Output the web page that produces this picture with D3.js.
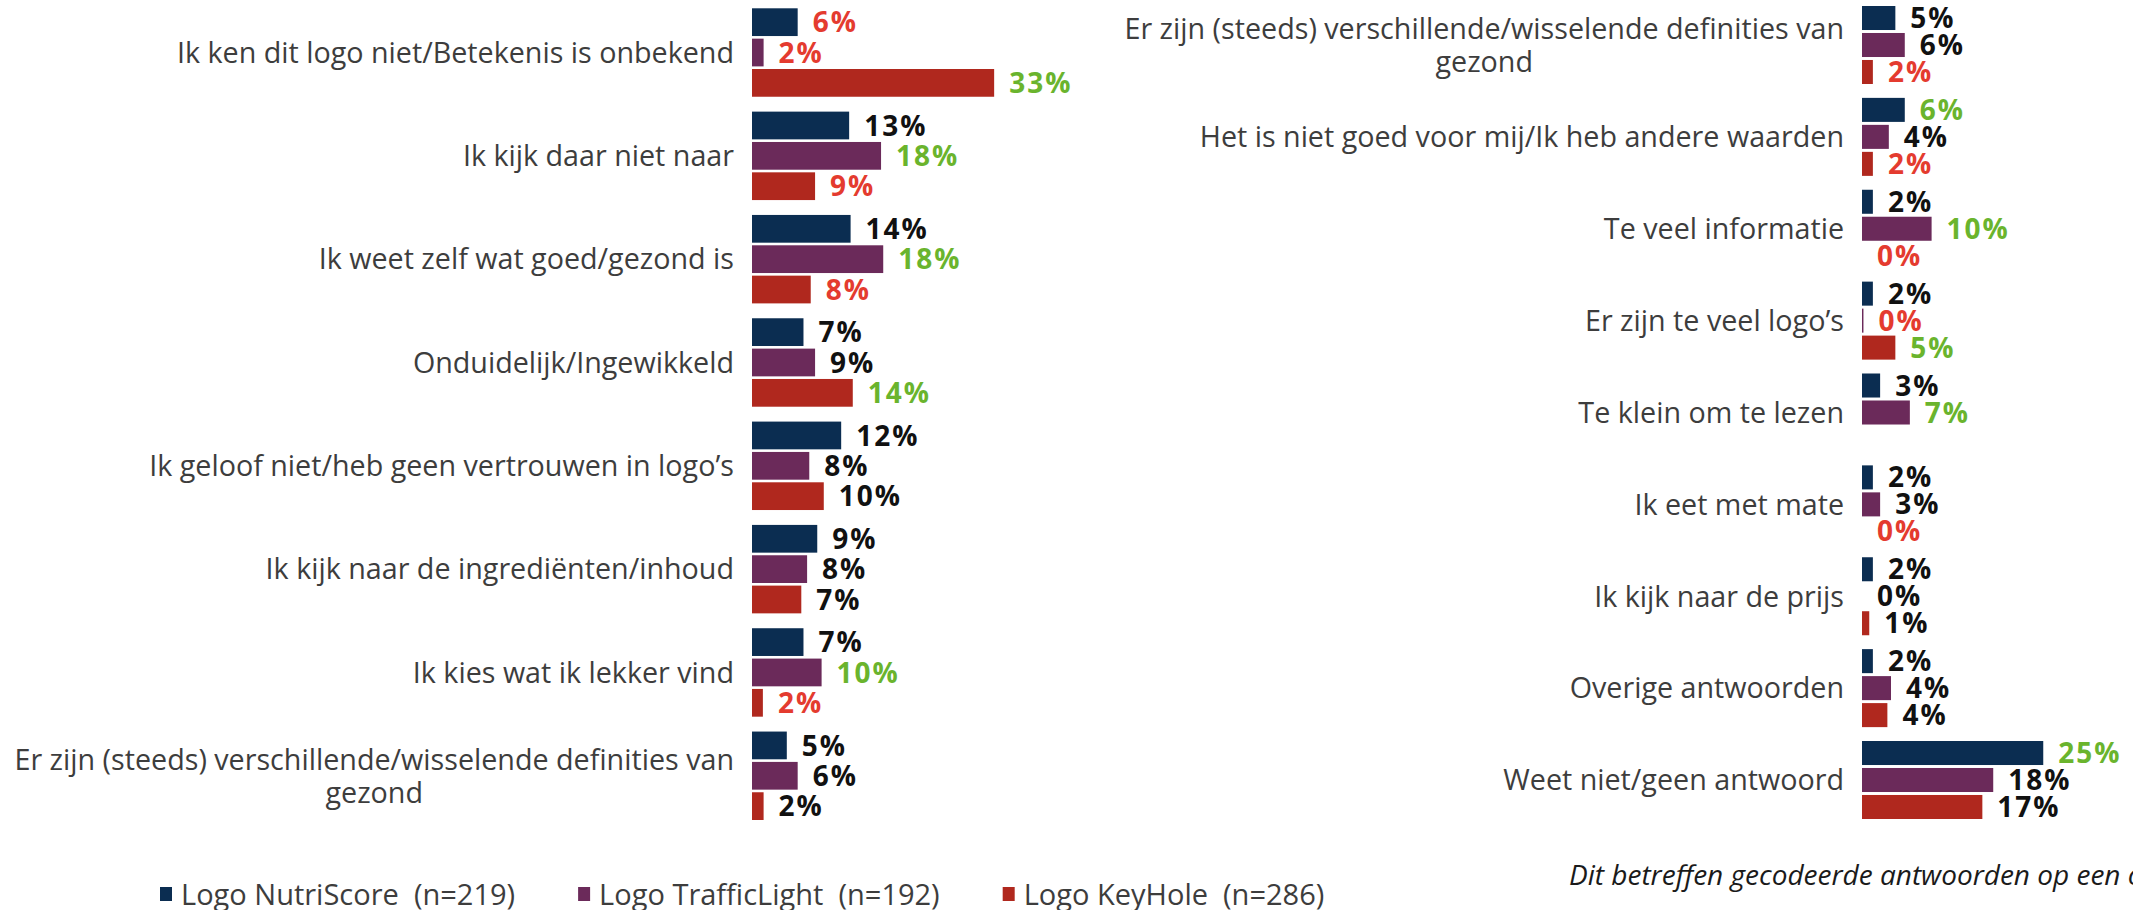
<!DOCTYPE html>
<html>
<head>
<meta charset="utf-8">
<script src="https://cdn.jsdelivr.net/npm/d3@7/dist/d3.min.js"></script>
<style>
  body { margin: 0; background: #fff; }
  svg { display: block; }
  text { font-family: "Open Sans", sans-serif; }
</style>
</head>
<body>
<svg id="chart"></svg>
<script>
// series (legend) + colours
var seriesNames = ["Logo NutriScore  (n=219)", "Logo TrafficLight  (n=192)", "Logo KeyHole  (n=286)"];
var seriesColors = ["#0b2d51", "#6b2a5a", "#b0281e"];

// left panel
var leftCategories = [
  "Ik ken dit logo niet/Betekenis is onbekend",
  "Ik kijk daar niet naar",
  "Ik weet zelf wat goed/gezond is",
  "Onduidelijk/Ingewikkeld",
  "Ik geloof niet/heb geen vertrouwen in logo’s",
  "Ik kijk naar de ingrediënten/inhoud",
  "Ik kies wat ik lekker vind",
  "Er zijn (steeds) verschillende/wisselende definities van gezond"
];
var leftNutri   = [6.3, 13.4, 13.6, 7.1, 12.3, 9.0, 7.1, 4.8];
var leftTraffic = [1.6, 17.8, 18.1, 8.7, 7.9, 7.6, 9.6, 6.3];
var leftKeyhole = [33.4, 8.7, 8.1, 13.9, 9.9, 6.8, 1.5, 1.6];
// significance: "+" higher (green), "-" lower (red), "" none
var leftNutriSig   = ["-", "", "", "", "", "", "", ""];
var leftTrafficSig = ["-", "+", "+", "", "", "", "+", ""];
var leftKeyholeSig = ["+", "-", "-", "+", "", "", "-", ""];

// right panel
var rightCategories = [
  "Er zijn (steeds) verschillende/wisselende definities van gezond",
  "Het is niet goed voor mij/Ik heb andere waarden",
  "Te veel informatie",
  "Er zijn te veel logo’s",
  "Te klein om te lezen",
  "Ik eet met mate",
  "Ik kijk naar de prijs",
  "Overige antwoorden",
  "Weet niet/geen antwoord"
];
var rightNutri   = [4.6, 5.9, 1.5, 1.5, 2.5, 1.5, 1.5, 1.5, 25.0];
var rightTraffic = [5.9, 3.7, 9.6, 0.2, 6.6, 2.5, 0, 4.0, 18.1];
var rightKeyhole = [1.5, 1.5, 0, 4.6, null, 0, 1.0, 3.5, 16.6];
var rightNutriSig   = ["", "+", "", "", "", "", "", "", "+"];
var rightTrafficSig = ["", "", "+", "-", "+", "", "", "", ""];
var rightKeyholeSig = ["-", "-", "-", "+", "", "-", "", "", ""];

var footnote = "Dit betreffen gecodeerde antwoorden op een open vraag";

var width = 2133, height = 910;
var sigColor = {"+": "#6ab42d", "-": "#e43b2f", "": "#111111"};

var svg = d3.select("#chart").attr("width", width).attr("height", height);

var drawPanel = function(cats, vals, sigs, x0, y0, y1, groupPad, barPad)
{
  var x = d3.scaleLinear().domain([0, 35]).range([x0, x0 + 35 * 7.25]);
  var y = d3.scaleBand().domain(cats).range([y0, y1]).paddingInner(groupPad);
  var ySub = d3.scaleBand().domain([0, 1, 2]).range([0, y.bandwidth()]).paddingInner(barPad);

  var rows = cats.map(function(c, i) {
    return {cat: c, bars: [0, 1, 2].map(function(s) {
      return {s: s, v: vals[s][i], sig: sigs[s][i]};
    }).filter(function(b) { return b.v != null; })};
  });

  var g = svg.append("g");
  var grp = g.selectAll("g.grp").data(rows).enter().append("g")
    .attr("class", "grp")
    .attr("transform", function(d) { return "translate(0," + y(d.cat) + ")"; });

  grp.selectAll("rect").data(function(d) { return d.bars; }).enter().append("rect")
    .attr("x", x(0))
    .attr("y", function(d) { return ySub(d.s); })
    .attr("width", function(d) { return x(d.v) - x(0); })
    .attr("height", ySub.bandwidth())
    .attr("fill", function(d) { return seriesColors[d.s]; });

  grp.selectAll("text.val").data(function(d) { return d.bars; }).enter().append("text")
    .attr("class", "val")
    .attr("x", function(d) { return x(d.v) + 15; })
    .attr("y", function(d) { return ySub(d.s) + ySub.bandwidth() / 2; })
    .attr("dy", "0.36em")
    .style("font-size", "28px")
    .style("font-weight", "bold")
    .style("letter-spacing", "2px")
    .attr("fill", function(d) { return sigColor[d.sig]; })
    .text(function(d) { return Math.round(d.v) + "%"; });

  // category labels, wrapped and centred as a block right of the bars
  var fs = 28.7, lh = 33, maxW = 760;
  var labelRight = x0 - 18;
  grp.each(function(d) {
    var t = d3.select(this).append("text")
      .attr("class", "cat")
      .style("font-size", fs + "px")
      .attr("fill", "#3d3d3d")
      .attr("text-anchor", "middle");
    var words = d.cat.split(" "), lines = [], line = [];
    var probe = t.append("tspan");
    words.forEach(function(w) {
      line.push(w);
      probe.text(line.join(" "));
      if (probe.node().getComputedTextLength() > maxW && line.length > 1) {
        line.pop();
        lines.push(line.join(" "));
        line = [w];
      }
    });
    lines.push(line.join(" "));
    probe.remove();
    var widths = [];
    var spans = lines.map(function(l) {
      var sp = t.append("tspan").text(l);
      widths.push(sp.node().getComputedTextLength());
      return sp;
    });
    var blockW = d3.max(widths);
    var cy = y.bandwidth() / 2 + 0.36 * fs - (lines.length - 1) * lh / 2;
    spans.forEach(function(sp, i) {
      sp.attr("x", labelRight - blockW / 2).attr("y", cy + i * lh);
    });
  });
};

drawPanel(leftCategories, [leftNutri, leftTraffic, leftKeyhole],
  [leftNutriSig, leftTrafficSig, leftKeyholeSig], 752, 8.3, 820, 0.144, 0.086);

drawPanel(rightCategories, [rightNutri, rightTraffic, rightKeyhole],
  [rightNutriSig, rightTrafficSig, rightKeyholeSig], 1862, 6, 819, 0.151, 0.11);

// legend
var legend = svg.append("g");
var lx = 160;
seriesNames.forEach(function(name, i) {
  legend.append("rect").attr("x", lx).attr("y", 887).attr("width", 12).attr("height", 14)
    .attr("fill", seriesColors[i]);
  var t = legend.append("text").attr("x", lx + 21).attr("y", 905)
    .style("font-size", "29px").style("white-space", "pre")
    .attr("fill", "#3d3d3d").text(name);
  lx = lx + 21 + t.node().getComputedTextLength() + 63;
});

// footnote
svg.append("text").attr("x", 1569).attr("y", 885)
  .style("font-size", "28px").style("font-style", "italic")
  .attr("fill", "#1a1a1a").text(footnote);
</script>
</body>
</html>
